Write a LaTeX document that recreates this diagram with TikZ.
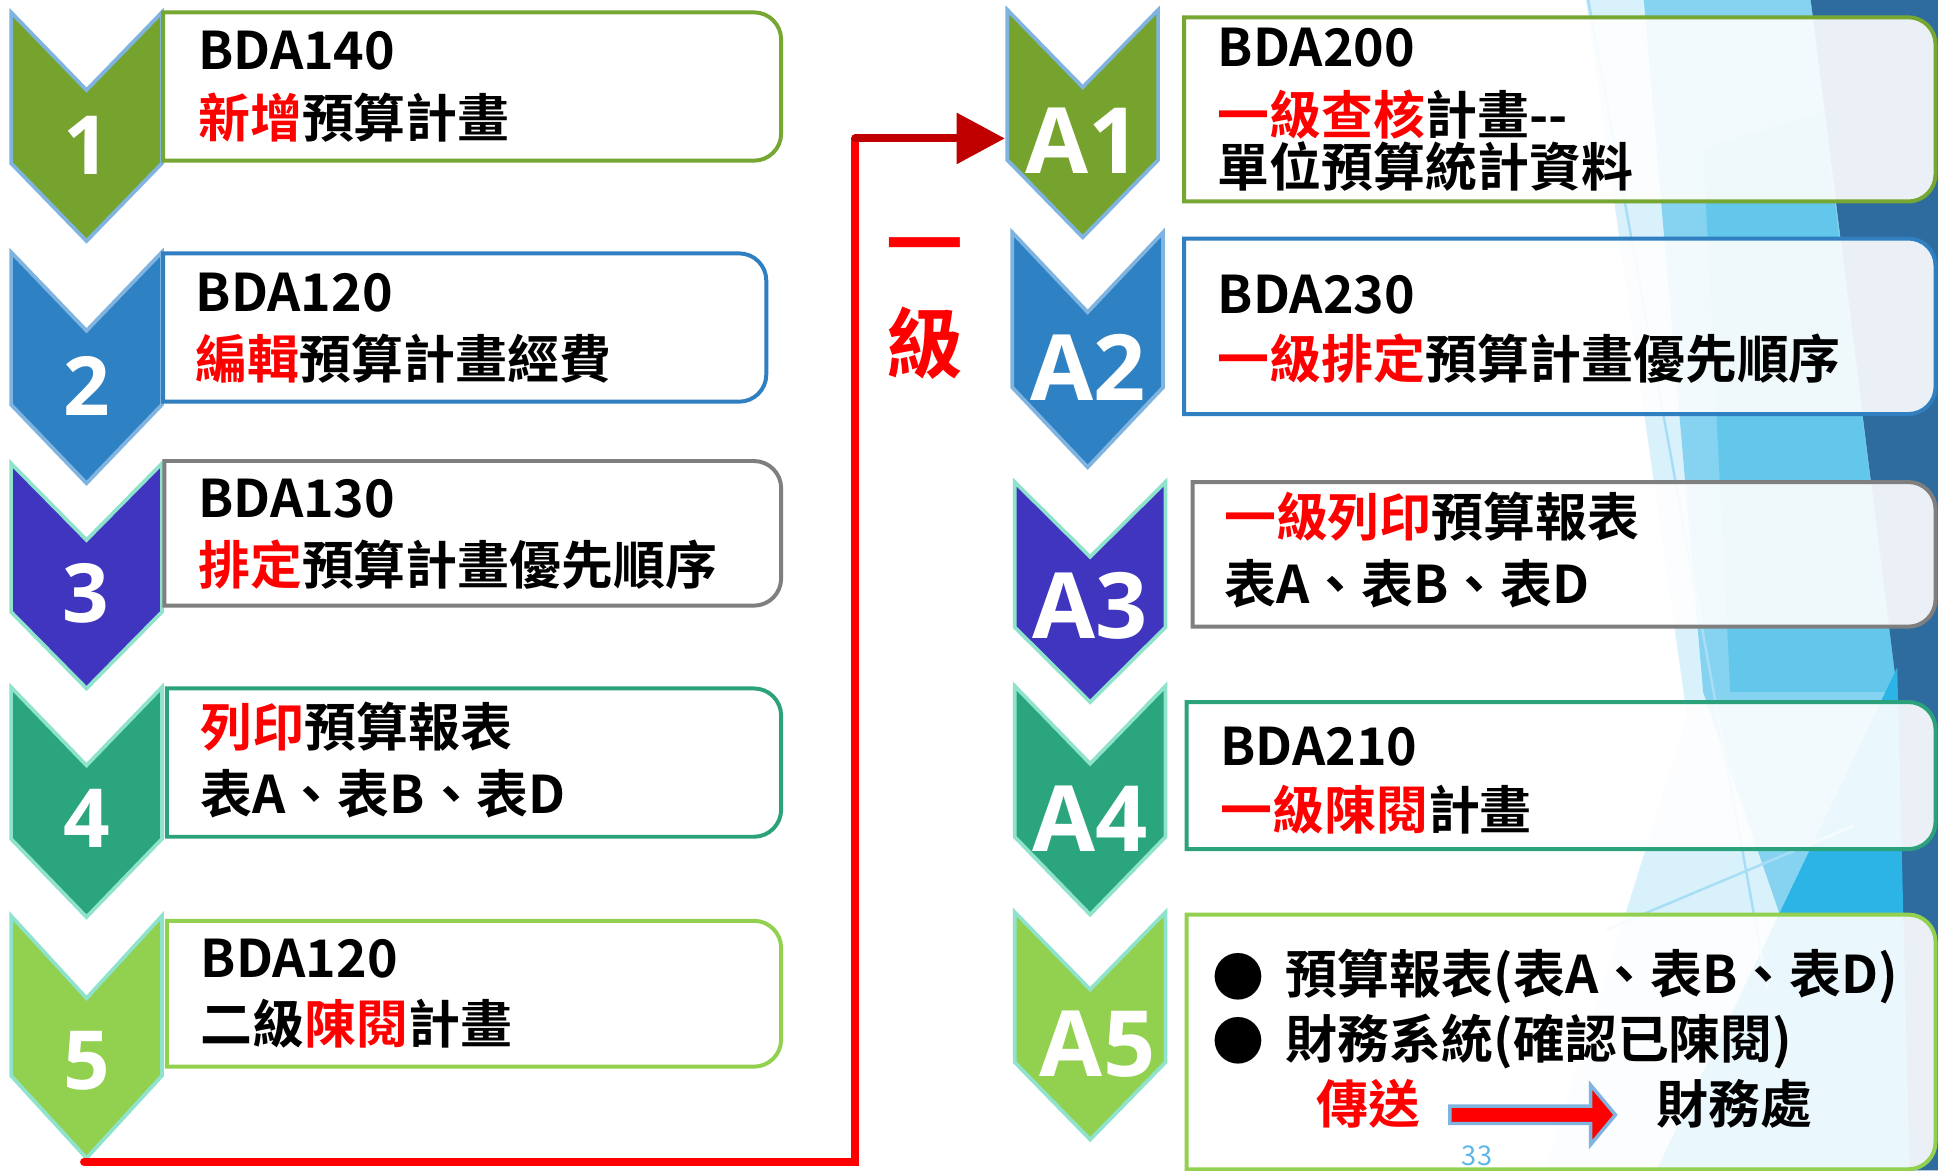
\documentclass[tikz,border=0pt]{standalone}
\usepackage{fontspec}
\setmainfont{Noto Sans CJK TC}[BoldFont=* Bold]
\newfontfamily\labfont{Open Sans}
\usetikzlibrary{arrows.meta}
\definecolor{cgreen}{HTML}{76A32D}
\definecolor{cblue}{HTML}{2E81C3}
\definecolor{cindigo}{HTML}{3F35BF}
\definecolor{cteal}{HTML}{2BA57E}
\definecolor{clgreen}{HTML}{92D050}
\definecolor{bgreen}{HTML}{77A733}
\definecolor{bblue}{HTML}{2F7FC1}
\definecolor{bgray}{HTML}{7F7F7F}
\definecolor{bteal}{HTML}{2CA27C}
\definecolor{edgeblue}{HTML}{80B4E0}
\definecolor{edgemint}{HTML}{8FE3CC}
\definecolor{darkred}{HTML}{C00000}
\definecolor{bgpale}{HTML}{D9F1FB}
\definecolor{bglight}{HTML}{85D3F0}
\definecolor{bgmed}{HTML}{62C7EA}
\definecolor{bgdark}{HTML}{2E6CA0}
\definecolor{bgbright}{HTML}{2DB4E6}
\definecolor{bgline}{HTML}{A8DEF5}
\definecolor{pagenum}{HTML}{5FB8E8}
\newcommand\mychev[5]{%
  \filldraw[chevstyle, fill=#4, draw=#5] ({#1-61},{#2}) -- ({#1},{#2+0.34*#3}) -- ({#1+61},{#2}) -- ({#1+61},{#2+0.66*#3}) -- ({#1},{#2+#3}) -- ({#1-61},{#2+0.66*#3}) -- cycle;}
\newcommand\mybox[5]{%
  \draw[boxstyle, draw=#5] (#1,#2) -- ({#3-22},#2) arc(-90:0:22) -- (#3,{#4-22}) arc(0:90:22) -- (#1,#4) -- cycle;}
\begin{document}
\begin{tikzpicture}[x=0.5pt,y=-0.5pt,
  chevstyle/.style={line width=1.5pt, line join=miter},
  boxstyle/.style={line width=1.6pt, fill=white, fill opacity=0.9},
  numlab/.style={text=white, inner sep=0, font=\labfont\bfseries\fontsize{33pt}{33pt}\selectfont},
  alab/.style={text=white, inner sep=0, font=\labfont\bfseries\fontsize{37pt}{37pt}\selectfont},
  txt/.style={anchor=base west, inner sep=0, font=\bfseries\fontsize{21pt}{25pt}\selectfont},
  redline/.style={red, line width=3.2pt, line cap=round},
  darkredline/.style={darkred, line width=3.2pt, line cap=round}]
\useasboundingbox (0,0) rectangle (1568,947);
\fill[white] (0,0) rectangle (1568,947);
% background facets
\fill[bgpale] (1283,0) -- (1568,0) -- (1568,947) -- (1250,947) -- (1365,580) -- cycle;
\fill[bglight] (1330,0) -- (1465,0) -- (1535,560) -- (1440,740) -- (1378,560) -- cycle;
\fill[bgmed] (1378,120) -- (1475,90) -- (1535,560) -- (1400,560) -- cycle;
\fill[bgdark] (1465,0) -- (1568,0) -- (1568,947) -- (1540,947) -- (1535,560) -- cycle;
\fill[bgbright] (1535,540) -- (1545,947) -- (1340,947) -- cycle;
\draw[bgline, line width=1pt] (1285,0) -- (1430,800);
\draw[bgline, line width=1pt] (1300,752) -- (1500,668);
% left chevrons
\mychev{70}{10}{185}{cgreen}{edgeblue}
\mychev{70}{204}{187}{cblue}{edgeblue}
\mychev{70}{375}{182}{cindigo}{edgemint}
\mychev{70}{556}{186}{cteal}{edgemint}
\mychev{70}{741}{196}{clgreen}{edgemint}
\node[numlab] (n1) at (70,118) {1};
\node[numlab] (n2) at (70,312) {2};
\node[numlab] (n3) at (69,480) {3};
\node[numlab] (n4) at (70,662) {4};
\node[numlab] (n5) at (70,858) {5};
\coordinate (ch5tip) at (68,940);
% right chevrons
\mychev{876}{8}{184}{cgreen}{edgeblue}
\mychev{880}{188}{190}{cblue}{edgeblue}
\mychev{882}{390}{178}{cindigo}{edgemint}
\mychev{882}{555}{185}{cteal}{edgemint}
\mychev{882}{738}{184}{clgreen}{edgemint}
\node[alab] (a1) at (876,114) {A1};
\node[alab] (a2) at (880,297) {A2};
\node[alab] (a3) at (882,490) {A3};
\node[alab] (a4) at (882,662) {A4};
\node[alab] (a5) at (888,845) {A5};
\coordinate (a1west) at (813,112);
% left boxes
\mybox{132}{10}{632}{130}{bgreen}
\mybox{132}{205}{620}{325}{bblue}
\mybox{133}{373}{632}{490}{bgray}
\mybox{135}{557}{632}{677}{bteal}
\mybox{135}{745}{632}{863}{clgreen}
% right boxes
\mybox{958}{14}{1566}{163}{bgreen}
\mybox{958}{193}{1566}{335}{bblue}
\mybox{965}{390}{1566}{507}{bgray}
\mybox{960}{568}{1566}{687}{bteal}
\mybox{960}{740}{1566}{946}{clgreen}
% left texts
\node[txt] (t1a) at (160,56) {BDA140};
\node[txt] (t1b) at (160,111) {{\color{red}新增}預算計畫};
\node[txt] (t2a) at (158,252) {BDA120};
\node[txt] (t2b) at (158,306) {{\color{red}編輯}預算計畫經費};
\node[txt] (t3a) at (160,419) {BDA130};
\node[txt] (t3b) at (160,473) {{\color{red}排定}預算計畫優先順序};
\node[txt] (t4a) at (162,604) {{\color{red}列印}預算報表};
\node[txt] (t4b) at (162,658) {表A、表B、表D};
\node[txt] (t5a) at (162,791) {BDA120};
\node[txt] (t5b) at (162,844) {二級{\color{red}陳閱}計畫};
% right texts
\node[txt] (r1a) at (985,54) {BDA200};
\node[txt] (r1b) at (985,109) {{\color{red}一級查核}計畫-{}-};
\node[txt] (r1c) at (985,151) {單位預算統計資料};
\node[txt] (r2a) at (985,254) {BDA230};
\node[txt] (r2b) at (985,306) {{\color{red}一級排定}預算計畫優先順序};
\node[txt] (r3a) at (990,434) {{\color{red}一級列印}預算報表};
\node[txt] (r3b) at (990,488) {表A、表B、表D};
\node[txt] (r4a) at (987,619) {BDA210};
\node[txt] (r4b) at (987,671) {{\color{red}一級陳閱}計畫};
\node[inner sep=0, font=\bfseries\fontsize{21pt}{25pt}\selectfont] (b1) at (1002,790) {●};
\node[txt] (r5a) at (1040,804) {預算報表(表A、表B、表D)};
\node[inner sep=0, font=\bfseries\fontsize{21pt}{25pt}\selectfont] (b2) at (1002,842) {●};
\node[txt] (r5b) at (1040,856) {財務系統(確認已陳閱)};
\node[txt, text=red] (send) at (1065,909) {傳送};
\node[txt] (fin) at (1340,909) {財務處};
\filldraw[fill=red, draw=edgeblue, line width=1.4pt, line join=miter] (1173,895) -- (1287,895) -- (1287,878) -- (1307,902) -- (1287,926) -- (1287,909) -- (1173,909) -- cycle;
\node[inner sep=0, text=pagenum, font=\fontsize{11pt}{11pt}\selectfont] (pg) at (1195,935) {33};
% level label
\node[inner sep=0, text=red, font=\bfseries\fontsize{31pt}{31pt}\selectfont] (lv1) at (748,206) {一};
\node[inner sep=0, text=red, font=\bfseries\fontsize{31pt}{31pt}\selectfont] (lv2) at (748,278) {級};
% connector
\coordinate (turn) at (692,112);
\draw[redline] (ch5tip) -| (turn);
\draw[darkredline, -{Triangle[length=19.5pt,width=20pt]}] (turn) -- (a1west);
\end{tikzpicture}
\end{document}
